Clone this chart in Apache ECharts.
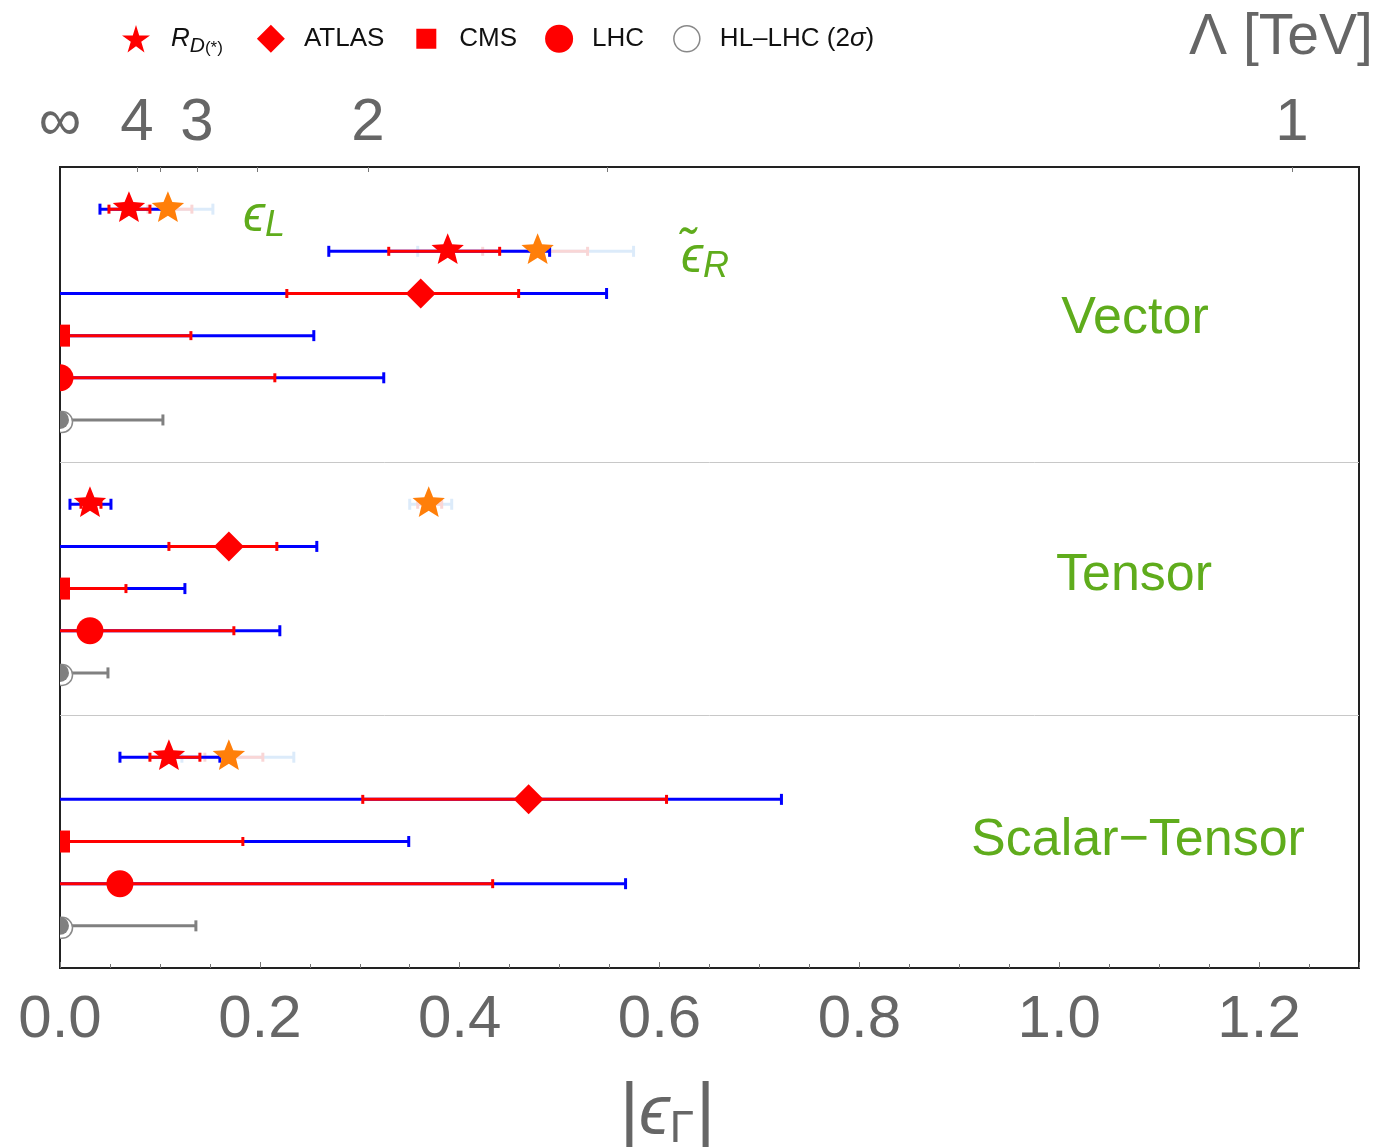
<!DOCTYPE html>
<html>
<head>
<meta charset="utf-8">
<script src="https://cdn.jsdelivr.net/npm/echarts@6/dist/echarts.min.js"></script>
<style>
html,body{margin:0;padding:0;background:#fff;}
#chart{width:1375px;height:1147px;}
</style>
</head>
<body>
<div id="chart"></div>
<script>
// ---------------- data ----------------
// row positions (top to bottom): Vector rows 1-6, Tensor rows 8-12, Scalar-Tensor rows 14-18
const dividers = [7, 13];

// R_D(*) fits (rows: eps_L, eps_R~ (Vector), Tensor, Scalar-Tensor)
const rdRows  = [1, 2, 8, 14];
const rdBest  = [0.069, 0.388, 0.030, 0.109];
const rd1Lo   = [0.049, 0.329, 0.021, 0.090];
const rd1Hi   = [0.090, 0.440, 0.041, 0.140];
const rd2Lo   = [0.040, 0.269, 0.010, 0.060];
const rd2Hi   = [0.110, 0.490, 0.051, 0.160];
// second (orange) R_D(*) solution
const rdAltBest = [0.108, 0.478, 0.369, 0.169];
const rdAlt1Lo  = [0.088, 0.423, 0.358, 0.145];
const rdAlt1Hi  = [0.132, 0.528, 0.382, 0.203];
const rdAlt2Lo  = [0.066, 0.358, 0.350, 0.122];
const rdAlt2Hi  = [0.153, 0.574, 0.392, 0.234];

// ATLAS
const atlasRows = [3, 9, 15];
const atlasBest = [0.361, 0.169, 0.469];
const atlas1Lo  = [0.227, 0.109, 0.303];
const atlas1Hi  = [0.459, 0.217, 0.607];
const atlas2Lo  = [0, 0, 0];
const atlas2Hi  = [0.547, 0.257, 0.722];

// CMS
const cmsRows = [4, 10, 16];
const cmsBest = [0, 0, 0];
const cms1Hi  = [0.131, 0.066, 0.183];
const cms2Hi  = [0.254, 0.125, 0.349];

// LHC combined
const lhcRows = [5, 11, 17];
const lhcBest = [0, 0.030, 0.060];
const lhc1Hi  = [0.215, 0.174, 0.433];
const lhc2Hi  = [0.324, 0.220, 0.566];

// HL-LHC projection (2 sigma)
const hlRows = [6, 12, 18];
const hlBest = [0, 0, 0];
const hl2Hi  = [0.103, 0.048, 0.136];

// axes
const xTickInterval = 0.2;
const lambdaLabels = ['\u221E', '4', '3', '2', '1'];
const lambdaLabelVals = [Infinity, 4, 3, 2, 1];
const lambdaTickVals = [4, 3.5, 3, 2.5, 2, 1.5, 1];
const epsPerInvLambda2 = 1.233; // |eps| = c / Lambda^2 (TeV)

const groupLabels = ['Vector', 'Tensor', 'Scalar\u2212Tensor'];

// ---------------- helpers ----------------
const FONT = 'Liberation Sans, Arial, Helvetica, sans-serif';
const GREEN = '#5fac1c';
const GRAY_TXT = '#666666';
const lamToEps = l => (l === Infinity ? 0 : epsPerInvLambda2 / (l * l));

function zipBars(rows, lo, hi) { return rows.map((r, i) => [r, lo[i], hi[i]]); }
function zipPts(rows, v) { return rows.map((r, i) => [r, v[i]]); }

function barSeries(data, color, lw, capH, z) {
  return {
    type: 'custom', silent: true, clip: true, z: z,
    data: data, encode: { x: [1, 2], y: 0 },
    renderItem: function (params, api) {
      const y = api.value(0), lo = api.value(1), hi = api.value(2);
      const p1 = api.coord([lo, y]), p2 = api.coord([hi, y]);
      const st = { stroke: color, lineWidth: lw };
      const ch = [{ type: 'line', shape: { x1: p1[0], y1: p1[1], x2: p2[0], y2: p2[1] }, style: st }];
      if (lo > 0) ch.push({ type: 'line', shape: { x1: p1[0], y1: p1[1] - capH / 2, x2: p1[0], y2: p1[1] + capH / 2 }, style: st });
      ch.push({ type: 'line', shape: { x1: p2[0], y1: p2[1] - capH / 2, x2: p2[0], y2: p2[1] + capH / 2 }, style: st });
      return { type: 'group', children: ch };
    }
  };
}

function starPts(cx, cy, R, r) {
  const pts = [];
  for (let k = 0; k < 10; k++) {
    const a = -Math.PI / 2 + k * Math.PI / 5;
    const rad = (k % 2 === 0) ? R : r;
    pts.push([cx + rad * Math.cos(a), cy + rad * Math.sin(a)]);
  }
  return pts;
}

function markerSeries(name, data, kind, color, z) {
  return {
    name: name, type: 'custom', silent: true, clip: true, z: z,
    itemStyle: { color: color },
    data: data, encode: { x: 1, y: 0 },
    renderItem: function (params, api) {
      const p = api.coord([api.value(1), api.value(0)]);
      const x = p[0], y = p[1];
      if (kind === 'star') {
        return { type: 'polygon', shape: { points: starPts(x, y - 1, 17, 7.5) }, style: { fill: color } };
      } else if (kind === 'diamond') {
        return { type: 'polygon', shape: { points: [[x, y - 15], [x + 15, y], [x, y + 15], [x - 15, y]] }, style: { fill: color } };
      } else if (kind === 'square') {
        return { type: 'rect', shape: { x: x - 10, y: y - 11, width: 20, height: 22 }, style: { fill: color } };
      } else if (kind === 'circle') {
        return { type: 'circle', shape: { cx: x, cy: y, r: 13.5 }, style: { fill: color } };
      } else { // HL-LHC: gray dot with open ring
        return { type: 'group', children: [
          { type: 'circle', shape: { cx: x + 2, cy: y + 2, r: 10.5 }, style: { fill: '#ffffff', stroke: '#8a8a8a', lineWidth: 1.5 } },
          { type: 'circle', shape: { cx: x, cy: y, r: 9 }, style: { fill: '#808080' } }
        ] };
      }
    }
  };
}

const STAR_PATH = 'path://M50,0 L61,36 L98,36 L68,58 L79,95 L50,73 L21,95 L32,58 L2,36 L39,36 Z';
const SQUARE_PATH = 'path://M0,0 M4,4 L24,4 L24,24 L4,24 Z M28,28';
const CIRCLE_PATH = 'path://M0,0 M14,1 A13,13 0 1 1 13.99,1 Z M28,28';

// ---------------- series ----------------
const series = [
  // dividers
  {
    type: 'line', data: [], silent: true,
    markLine: {
      silent: true, symbol: ['none', 'none'], label: { show: false },
      lineStyle: { color: '#c8c8c8', width: 1, type: 'solid' },
      data: dividers.map(d => ({ yAxis: d }))
    }
  },
  // faded bars for second R_D solution
  barSeries(zipBars(rdRows, rdAlt2Lo, rdAlt2Hi), '#dcebfa', 3, 11, 2),
  barSeries(zipBars(rdRows, rdAlt1Lo, rdAlt1Hi), '#f9d6d6', 3, 9, 3),
  // 2 sigma (blue)
  barSeries(zipBars(rdRows, rd2Lo, rd2Hi), '#0000ff', 3, 11, 4),
  barSeries(zipBars(atlasRows, atlas2Lo, atlas2Hi), '#0000ff', 3, 11, 4),
  barSeries(zipBars(cmsRows, cmsBest, cms2Hi), '#0000ff', 3, 11, 4),
  barSeries(zipBars(lhcRows, cmsBest, lhc2Hi), '#0000ff', 3, 11, 4),
  // 1 sigma (red)
  barSeries(zipBars(rdRows, rd1Lo, rd1Hi), '#ff0000', 3, 9, 5),
  barSeries(zipBars(atlasRows, atlas1Lo, atlas1Hi), '#ff0000', 3, 9, 5),
  barSeries(zipBars(cmsRows, cmsBest, cms1Hi), '#ff0000', 3, 9, 5),
  barSeries(zipBars(lhcRows, cmsBest, lhc1Hi), '#ff0000', 3, 9, 5),
  // HL-LHC (gray)
  barSeries(zipBars(hlRows, hlBest, hl2Hi), '#808080', 3, 11, 5),
  // markers
  markerSeries('RD', zipPts(rdRows, rdBest), 'star', '#ff0000', 10),
  markerSeries('RDalt', zipPts(rdRows, rdAltBest), 'star', '#ff7f0a', 10),
  markerSeries('ATLAS', zipPts(atlasRows, atlasBest), 'diamond', '#ff0000', 10),
  markerSeries('CMS', zipPts(cmsRows, cmsBest), 'square', '#ff0000', 10),
  markerSeries('LHC', zipPts(lhcRows, lhcBest), 'circle', '#ff0000', 10),
  markerSeries('HL-LHC (2\u03C3)', zipPts(hlRows, hlBest), 'hl', '#808080', 10)
];

const legendNames = {
  'RD': '{r|R}{s|D}{t|(*)}',
  'ATLAS': 'ATLAS', 'CMS': 'CMS', 'LHC': 'LHC',
  'HL-LHC (2\u03C3)': 'HL\u2013LHC (2{i|\u03C3})'
};

const option = {
  animation: false,
  backgroundColor: '#ffffff',
  grid: { left: 60, right: 16, top: 167, bottom: 179, show: true, borderColor: '#222', borderWidth: 2, backgroundColor: 'transparent', containLabel: false, outerBoundsMode: 'none' },
  legend: {
    left: 117, top: 19,
    itemWidth: 28, itemHeight: 28, itemGap: 28,
    selectedMode: false,
    textStyle: {
      fontFamily: FONT, fontSize: 26, color: '#111', padding: [0, 0, 0, 14],
      rich: {
        r: { fontFamily: FONT, fontSize: 26, fontStyle: 'italic', color: '#111', verticalAlign: 'middle', lineHeight: 36, padding: [0, 0, 0, 2] },
        s: { fontFamily: FONT, fontSize: 21, fontStyle: 'italic', color: '#111', verticalAlign: 'bottom', lineHeight: 20 },
        t: { fontFamily: FONT, fontSize: 17, color: '#111', verticalAlign: 'bottom', lineHeight: 25, padding: [0, 6, 0, 0] },
        i: { fontFamily: FONT, fontSize: 26, fontStyle: 'italic', color: '#111' }
      }
    },
    formatter: n => legendNames[n] || n,
    data: [
      { name: 'RD', icon: STAR_PATH, itemStyle: { color: '#ff0000' } },
      { name: 'ATLAS', icon: 'diamond', itemStyle: { color: '#ff0000' } },
      { name: 'CMS', icon: SQUARE_PATH, itemStyle: { color: '#ff0000' } },
      { name: 'LHC', icon: 'circle', itemStyle: { color: '#ff0000' } },
      { name: 'HL-LHC (2\u03C3)', icon: CIRCLE_PATH, itemStyle: { color: '#ffffff', borderColor: '#888', borderWidth: 1.5 } }
    ]
  },
  xAxis: [
    {
      type: 'value', position: 'bottom', min: 0, max: 1.3, interval: xTickInterval,
      axisLine: { show: true, onZero: false, lineStyle: { color: '#222', width: 2 } },
      axisTick: { show: true, inside: true, length: 6, lineStyle: { color: '#777', width: 1 } },
      minorTick: { show: true, splitNumber: 4, length: 4, lineStyle: { color: '#777', width: 1 } },
      splitLine: { show: false },
      axisLabel: { show: true, showMaxLabel: false, margin: 22, fontFamily: FONT, fontSize: 60, color: GRAY_TXT, formatter: v => v.toFixed(1) },
      name: '{b||}{e|\u03F5}{s|\u0393}{b||}',
      nameLocation: 'middle', nameGap: 110,
      nameTextStyle: {
        padding: [0, 84, 0, 0],
        rich: {
          b: { fontFamily: FONT, fontSize: 74, color: GRAY_TXT },
          e: { fontFamily: FONT, fontSize: 70, fontStyle: 'italic', color: GRAY_TXT },
          s: { fontFamily: FONT, fontSize: 44, color: GRAY_TXT, verticalAlign: 'bottom', padding: [26, 2, 0, 0] }
        }
      }
    },
    {
      type: 'value', position: 'top', min: 0, max: 1.3,
      axisLine: { show: true, onZero: false, lineStyle: { color: '#222', width: 2 } },
      axisTick: { show: true, inside: true, length: 5, lineStyle: { color: '#777', width: 1 }, customValues: lambdaTickVals.map(lamToEps) },
      splitLine: { show: false },
      axisLabel: {
        show: true, margin: 14, fontFamily: FONT, fontSize: 60, color: GRAY_TXT,
        customValues: lambdaLabelVals.map(lamToEps),
        formatter: function (v) {
          let best = 0, bd = 1e9;
          lambdaLabelVals.forEach((l, i) => { const d = Math.abs(lamToEps(l) - v); if (d < bd) { bd = d; best = i; } });
          return lambdaLabels[best];
        }
      }
    }
  ],
  yAxis: {
    type: 'value', min: 0, max: 19, inverse: true,
    axisLine: { show: true, onZero: false, lineStyle: { color: '#222', width: 2 } },
    axisTick: { show: false }, axisLabel: { show: false }, splitLine: { show: false }
  },
  graphic: [
    { type: 'text', left: 1189, top: 10, z: 100,
      style: { text: '\u039B [TeV]', fontFamily: FONT, fontSize: 57, fill: GRAY_TXT } },
    { type: 'text', left: 243, top: 192, z: 100,
      style: { text: '{e|\u03F5}{s|L}', rich: {
        e: { fontFamily: FONT, fontSize: 50, fontStyle: 'italic', fill: GREEN, verticalAlign: 'middle' },
        s: { fontFamily: FONT, fontSize: 36, fontStyle: 'italic', fill: GREEN, verticalAlign: 'bottom', padding: [18, 0, 0, 0] } } } },
    { type: 'text', left: 681, top: 233, z: 100,
      style: { text: '{e|\u03F5\u0303}{s|R}', rich: {
        e: { fontFamily: FONT, fontSize: 50, fontStyle: 'italic', fill: GREEN, verticalAlign: 'middle' },
        s: { fontFamily: FONT, fontSize: 36, fontStyle: 'italic', fill: GREEN, verticalAlign: 'bottom', padding: [18, 0, 0, 0] } } } },
    { type: 'text', x: 1135, y: 319, z: 100,
      style: { text: groupLabels[0], fontFamily: FONT, fontSize: 52, fill: GREEN, align: 'center', verticalAlign: 'middle' } },
    { type: 'text', x: 1134, y: 576, z: 100,
      style: { text: groupLabels[1], fontFamily: FONT, fontSize: 52, fill: GREEN, align: 'center', verticalAlign: 'middle' } },
    { type: 'text', x: 1138, y: 841, z: 100,
      style: { text: groupLabels[2], fontFamily: FONT, fontSize: 52, fill: GREEN, align: 'center', verticalAlign: 'middle' } }
  ],
  series: series
};

const chart = echarts.init(document.getElementById('chart'), null, { renderer: 'canvas' });
chart.setOption(option);
</script>
</body>
</html>
